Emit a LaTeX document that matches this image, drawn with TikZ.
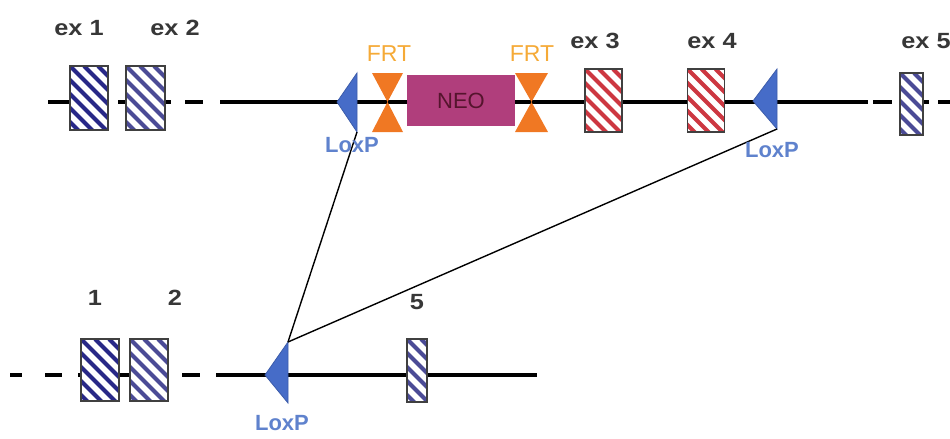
\documentclass[tikz,border=0pt]{standalone}
\usepackage{fontspec}
\setmainfont{Liberation Sans}
\usepackage{tikz}
\usetikzlibrary{calc}
\definecolor{exblue}{RGB}{40,40,135}
\definecolor{exbluelt}{RGB}{75,75,150}
\definecolor{exred}{RGB}{205,55,65}
\definecolor{loxblue}{RGB}{70,108,200}
\definecolor{loxtext}{RGB}{95,130,205}
\definecolor{frtorange}{RGB}{240,120,35}
\definecolor{frttext}{RGB}{245,170,55}
\definecolor{neofill}{RGB}{176,62,124}
\definecolor{neotext}{RGB}{85,20,45}
\definecolor{labgray}{RGB}{55,55,55}
\tikzset{
  dna/.style={black, line width=2pt},
  exon/.style={rectangle, draw=black!75, line width=0.7pt, fill=white, inner sep=0pt,
    minimum width=19pt, minimum height=32pt,
    path picture={\foreach \k in {-35,-28,...,28}
      \draw[#1, line width=2pt] ([xshift=\k*1pt]path picture bounding box.north west) -- ++(40pt,-40pt);}},
  loxp/.style={fill=loxblue, draw=loxblue!85!black, line width=0.4pt},
  frt/.style={fill=frtorange},
  link/.style={black, line width=0.7pt},
  lab/.style={font=\bfseries\fontsize{11}{13}\selectfont, text=labgray, xscale=1.15},
  loxlab/.style={font=\bfseries\fontsize{11}{13}\selectfont, text=loxtext},
  frtlab/.style={font=\fontsize{11.5}{13}\selectfont, text=frttext},
}
\begin{document}
\begin{tikzpicture}[x=0.5pt,y=-0.5pt]
\useasboundingbox (0,0) rectangle (950,439);
\draw[dna] (48,102) -- (70,102);
\draw[dna] (118,102) -- (126,102);
\draw[dna] (165,102) -- (171,102);
\draw[dna] (185,102) -- (203,102);
\draw[dna] (220,102) -- (868,102);
\draw[dna] (873,102) -- (892,102);
\draw[dna] (923,102) -- (929,102);
\draw[dna] (938,102) -- (950,102);
\draw[dna] (10,375) -- (22,375);
\draw[dna] (45,375) -- (62,375);
\draw[dna] (78,375) -- (130,375);
\draw[dna] (182,375) -- (200,375);
\draw[dna] (216,375) -- (537,375);
\node[exon=exblue] (ex1) at (89,98) {};
\node[exon=exbluelt, minimum width=19.5pt] (ex2) at (145.5,98) {};
\node[exon=exred, minimum width=18.5pt, minimum height=31.5pt] (ex3) at (603.5,100.5) {};
\node[exon=exred, minimum width=18.5pt, minimum height=31.5pt] (ex4) at (706,100.5) {};
\node[exon=exbluelt, minimum width=11.5pt, minimum height=31pt] (ex5) at (911.5,104) {};
\node[exon=exblue, minimum height=31pt] (b1) at (100,370) {};
\node[exon=exbluelt, minimum height=31pt] (b2) at (149,370) {};
\node[exon=exbluelt, minimum width=10pt, minimum height=31.5pt] (b5) at (417,370.5) {};
\node[rectangle, fill=neofill, inner sep=0pt, minimum width=54pt, minimum height=25.5pt,
  font=\fontsize{11}{13}\selectfont, text=neotext] (neo) at (461,100.5) {NEO};
\fill[frt] (372,73) -- (403,73) -- (387.5,102) -- cycle;
\fill[frt] (372,132) -- (403,132) -- (387.5,102) -- cycle;
\fill[frt] (515,73) -- (548,73) -- (531.5,102) -- cycle;
\fill[frt] (515,132) -- (548,132) -- (531.5,102) -- cycle;
\draw[loxp] (357,73) coordinate (lx1n) -- (337,102) -- (357,132) coordinate (lx1s) -- cycle;
\draw[loxp] (777,69) coordinate (lx2n) -- (753,101) -- (777,129) coordinate (lx2s) -- cycle;
\draw[loxp] (288,342) coordinate (lx3n) -- (265,375) -- (288,403) coordinate (lx3s) -- cycle;
\draw[link] (lx1s) -- (lx3n);
\draw[link] (lx2s) -- (lx3n);
\node[lab] (t1) at (79,28) {ex 1};
\node[lab] (t2) at (175,28) {ex 2};
\node[lab] (t3) at (595,41) {ex 3};
\node[lab] (t4) at (712,41) {ex 4};
\node[lab] (t5) at (926,41) {ex 5};
\node[lab] (s1) at (95,298) {1};
\node[lab] (s2) at (175,298) {2};
\node[lab] (s5) at (417,302) {5};
\node[frtlab] (f1) at (389,54) {FRT};
\node[frtlab] (f2) at (532,54) {FRT};
\node[loxlab] (x1) at (352,145) {LoxP};
\node[loxlab] (x2) at (772,150) {LoxP};
\node[loxlab] (x3) at (282,423) {LoxP};
\end{tikzpicture}
\end{document}
